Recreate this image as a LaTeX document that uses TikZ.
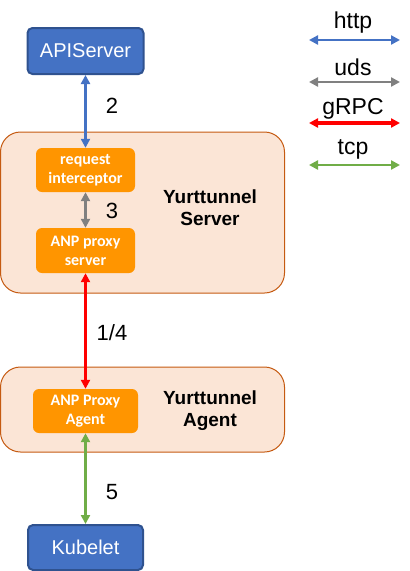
\documentclass[tikz,border=0pt]{standalone}
\usepackage{fontspec}
\setmainfont{Liberation Sans}
\newfontfamily\boxfont{Carlito}
\usetikzlibrary{arrows.meta}

\definecolor{apiblue}{HTML}{4472C4}
\definecolor{apiborder}{HTML}{2F528F}
\definecolor{peach}{HTML}{FBE5D6}
\definecolor{peachborder}{HTML}{C55A11}
\definecolor{anporange}{HTML}{FF9500}
\definecolor{udsgrey}{HTML}{808080}
\definecolor{tcpgreen}{HTML}{70AD47}

\tikzstyle{endpoint}=[rectangle, fill=apiblue, draw=apiborder, line width=2,
                      rounded corners=5, inner sep=0, text=white,
                      minimum width=115, minimum height=45,
                      font=\fontsize{20}{22}\selectfont]
\tikzstyle{component}=[rectangle, fill=anporange, rounded corners=6,
                       inner sep=0, text=white, align=center,
                       minimum width=99, minimum height=44,
                       font=\boxfont\bfseries\fontsize{16}{19}\selectfont]
\tikzstyle{tunnel}=[rectangle, fill=peach, draw=peachborder, line width=1,
                    rounded corners=20, inner sep=0]
\tikzstyle{title}=[align=center, font=\bfseries\fontsize{19}{22}\selectfont]
\tikzstyle{step_label}=[font=\fontsize{22}{24}\selectfont]
\tikzstyle{legend}=[font=\fontsize{23}{25}\selectfont]

\begin{document}
\begin{tikzpicture}[x=1pt, y=-1pt, >={Triangle[length=9, width=9]}]
\useasboundingbox (0,0) rectangle (410,571);

%%%%%%%%%%%%%%%%%%
%%%%%%%%%%%%%%%%%%
\node (Server_Box) at (142.5, 212.5) [tunnel, minimum width=284, minimum height=161] {};

\node (Agent_Box) at (142.5, 409.5) [tunnel, minimum width=284, minimum height=85] {};

\node (Server_Title) at (210, 208) [title] {Yurttunnel\\Server};

\node (Agent_Title) at (210, 411) [title] {Yurttunnel\\Agent};

%%%%%%%%%%%%%%%%%%
\node (APIServer) at (85.5, 51) [endpoint, minimum width=116, minimum height=46] {APIServer};

\node (Interceptor) at (85.5, 170) [component] {request\\interceptor};

\node (Proxy_Server) at (85.5, 250.5) [component, minimum height=45] {ANP proxy\\server};

\node (Proxy_Agent) at (85.5, 411) [component, minimum width=105] {ANP Proxy\\Agent};

\node (Kubelet) at (85.5, 547.5) [endpoint] {Kubelet};

%%%%%%%%%%%%%%%%%%
\node (two) at (112, 106) [step_label] {2};

\node (three) at (112, 211) [step_label] {3};

\node (one_four) at (112, 333) [step_label] {1/4};

\node (five) at (112, 492) [step_label] {5};

%%%%%%%%%%%%%%%%%%%
\node (http_Text) at (353, 23) [legend] {http};

\node (uds_Text) at (353, 67) [legend] {uds};

\node (gRPC_Text) at (353, 109) [legend] {gRPC};

\node (tcp_Text) at (353, 149) [legend] {tcp};

\coordinate (http_left) at (309, 40);
\coordinate (http_right) at (400, 40);
\coordinate (uds_left) at (309, 82);
\coordinate (uds_right) at (400, 82);
\coordinate (gRPC_left) at (309, 123);
\coordinate (gRPC_right) at (400, 123);
\coordinate (tcp_left) at (309, 165);
\coordinate (tcp_right) at (400, 165);

%%%%%%%%%%%%%%%%%%%%
%%%%%%%%%%%%%%%%%%%%
\draw [<->, line width=2.6, apiblue] (APIServer.south) to (Interceptor.north);

\draw [<->, line width=2.6, udsgrey] (Interceptor.south) to (Proxy_Server.north);

\draw [<->, line width=2.6, red] (Proxy_Server.south) to (Proxy_Agent.north);

\draw [<->, line width=2.6, tcpgreen] (Proxy_Agent.south) to (Kubelet.north);

%%%%%%%%%%%%%%%%%%%%
\draw [<->, line width=2.6, apiblue] (http_left) to (http_right);

\draw [<->, line width=2.6, udsgrey] (uds_left) to (uds_right);

\draw [<->, line width=4, red] (gRPC_left) to (gRPC_right);

\draw [<->, line width=2.6, tcpgreen] (tcp_left) to (tcp_right);

\end{tikzpicture}
\end{document}
